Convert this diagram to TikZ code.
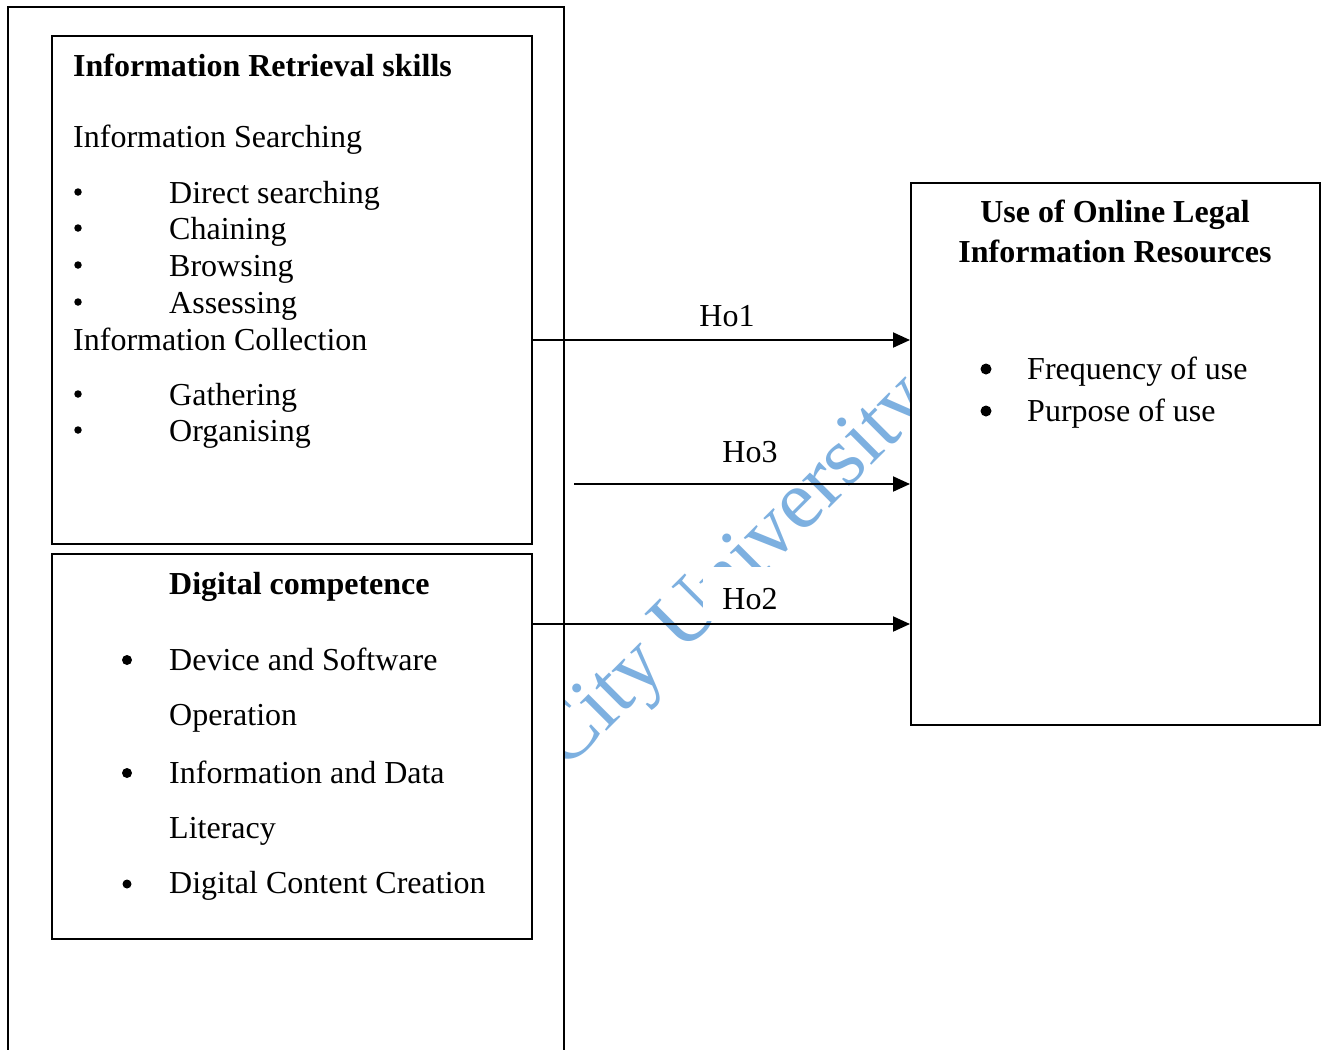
\documentclass[tikz,border=0pt]{standalone}
\usepackage{fontspec}
\setmainfont{Liberation Serif}
\usetikzlibrary{arrows.meta}
\definecolor{wmblue}{RGB}{125,176,224}
\begin{document}
\begin{tikzpicture}[x=1pt,y=-1pt,
  box/.style={draw,line width=2pt,inner sep=0pt},
  txt/.style={anchor=base west,inner sep=0pt,font=\fontsize{32}{38}\selectfont},
  hd/.style={anchor=base west,inner sep=0pt,font=\fontsize{32}{38}\selectfont\bfseries},
  hdc/.style={anchor=base,inner sep=0pt,font=\fontsize{32}{38}\selectfont\bfseries},
  lbl/.style={anchor=base,fill=white,inner xsep=19pt,inner ysep=0pt,text height=42pt,text depth=12pt,font=\fontsize{32}{38}\selectfont},
  arr/.style={line width=2pt,-{Triangle[length=17pt,width=15pt]}},
  bul/.style={circle,fill=black,inner sep=0pt}
]
\useasboundingbox (0,0) rectangle (1326,1050);
\fill[white] (0,0) rectangle (1326,1050);
% watermark
\begin{scope}
\clip (564,0) rectangle (1326,1050);
\node[anchor=base west,inner sep=0pt,rotate=45,text=wmblue,font=\fontsize{84}{90}\selectfont] (wm) at (565.5,772) {City University};
\end{scope}
% outer frame
\draw[line width=2pt] (8,1055) -- (8,7) -- (564,7) -- (564,1055);
% boxes
\node[box,minimum width=480pt,minimum height=508pt] (irs) at (292,290) {};
\node[box,minimum width=480pt,minimum height=385pt] (dc) at (292,746.5) {};
\node[box,fill=white,minimum width=409pt,minimum height=542pt] (use) at (1115.5,454) {};
% box 1 text
\node[hd] (t1) at (73,76) {Information Retrieval skills};
\node[txt] (t2) at (73,147) {Information Searching};
\node[txt] (t3) at (169,203) {Direct searching};
\node[txt] (t4) at (169,239) {Chaining};
\node[txt] (t5) at (169,276) {Browsing};
\node[txt] (t6) at (169,313) {Assessing};
\node[txt] (t7) at (73,350) {Information Collection};
\node[txt] (t8) at (169,405) {Gathering};
\node[txt] (t9) at (169,441) {Organising};
\foreach \yy/\nm in {192/b3,228/b4,265/b5,302/b6,394/b8,430/b9}
  \node[bul,minimum size=7.5pt] (\nm) at (78,\yy) {};
% box 2 text
\node[hd] (d1) at (169,594) {Digital competence};
\node[txt] (d2) at (169,670) {Device and Software};
\node[txt] (d3) at (169,725) {Operation};
\node[txt] (d4) at (169,783) {Information and Data};
\node[txt] (d5) at (169,838) {Literacy};
\node[txt] (d6) at (169,893) {Digital Content Creation};
\node[bul,minimum size=10pt] (db1) at (127,660) {};
\node[bul,minimum size=10pt] (db2) at (127,773) {};
\node[bul,minimum size=9pt] (db3) at (127,884) {};
% right box text
\node[hdc] (u1) at (1115,222) {Use of Online Legal};
\node[hdc] (u2) at (1115,262) {Information Resources};
\node[txt] (u3) at (1027,379) {Frequency of use};
\node[txt] (u4) at (1027,421) {Purpose of use};
\node[bul,minimum size=11pt] (ub1) at (986,369) {};
\node[bul,minimum size=11pt] (ub2) at (986,411) {};
% labels
\node[lbl] (l1) at (727,326) {Ho1};
\node[lbl] (l3) at (750,462) {Ho3};
\node[lbl] (l2) at (750,609) {Ho2};
% arrows
\coordinate (h1) at (0,340);
\coordinate (h3) at (574,484);
\coordinate (h2) at (0,624);
\draw[arr] (irs.east |- h1) -- (use.west |- h1);
\draw[arr] (h3) -- (use.west |- h3);
\draw[arr] (dc.east |- h2) -- (use.west |- h2);
\end{tikzpicture}
\end{document}
